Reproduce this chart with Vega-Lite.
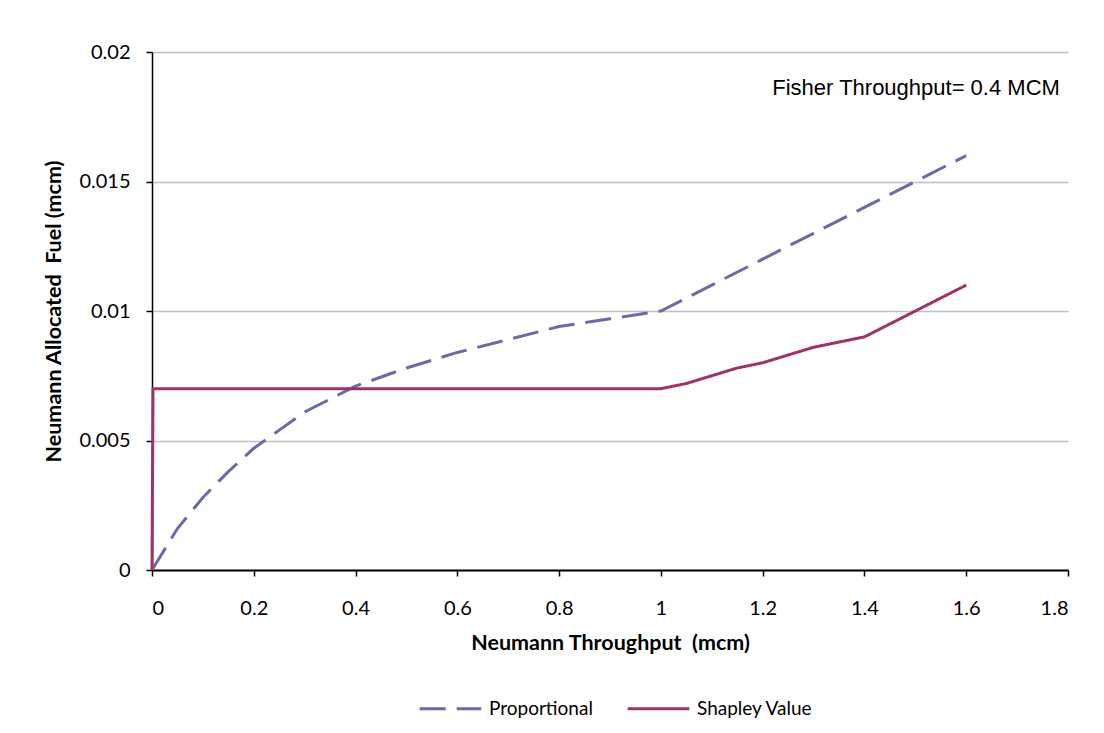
{
  "$schema": "https://vega.github.io/schema/vega-lite/v6.json",
  "width": 916,
  "height": 518,
  "autosize": "none",
  "padding": {"left": 152, "top": 52, "right": 36, "bottom": 163},
  "background": "white",
  "config": {
    "view": {"stroke": null},
    "font": "Lato",
    "axis": {"labelFont": "Lato", "titleFont": "Lato", "labelColor": "black", "titleColor": "black"}
  },
  "datasets": {
    "lines": [
      {"series": "Proportional", "x": 0, "y": 0},
      {"series": "Proportional", "x": 0.05, "y": 0.0016},
      {"series": "Proportional", "x": 0.1, "y": 0.0028},
      {"series": "Proportional", "x": 0.15, "y": 0.0038},
      {"series": "Proportional", "x": 0.2, "y": 0.0047},
      {"series": "Proportional", "x": 0.25, "y": 0.0054},
      {"series": "Proportional", "x": 0.3, "y": 0.0061},
      {"series": "Proportional", "x": 0.35, "y": 0.0066},
      {"series": "Proportional", "x": 0.4, "y": 0.0071},
      {"series": "Proportional", "x": 0.5, "y": 0.0078},
      {"series": "Proportional", "x": 0.6, "y": 0.0084},
      {"series": "Proportional", "x": 0.7, "y": 0.0089},
      {"series": "Proportional", "x": 0.8, "y": 0.0094},
      {"series": "Proportional", "x": 0.9, "y": 0.0097},
      {"series": "Proportional", "x": 1.0, "y": 0.01},
      {"series": "Proportional", "x": 1.1, "y": 0.011},
      {"series": "Proportional", "x": 1.2, "y": 0.012},
      {"series": "Proportional", "x": 1.3, "y": 0.013},
      {"series": "Proportional", "x": 1.35, "y": 0.0135},
      {"series": "Proportional", "x": 1.4, "y": 0.014},
      {"series": "Proportional", "x": 1.5, "y": 0.015},
      {"series": "Proportional", "x": 1.6, "y": 0.016},
      {"series": "Shapley Value", "x": 0, "y": 0},
      {"series": "Shapley Value", "x": 0.002, "y": 0.007},
      {"series": "Shapley Value", "x": 1.0, "y": 0.007},
      {"series": "Shapley Value", "x": 1.05, "y": 0.0072},
      {"series": "Shapley Value", "x": 1.15, "y": 0.0078},
      {"series": "Shapley Value", "x": 1.2, "y": 0.008},
      {"series": "Shapley Value", "x": 1.3, "y": 0.0086},
      {"series": "Shapley Value", "x": 1.35, "y": 0.0088},
      {"series": "Shapley Value", "x": 1.4, "y": 0.009},
      {"series": "Shapley Value", "x": 1.5, "y": 0.01},
      {"series": "Shapley Value", "x": 1.6, "y": 0.011}
    ],
    "note": [
      {"x": 1.784, "y": 0.0186, "label": "Fisher Throughput= 0.4 MCM"}
    ]
  },
  "layer": [
    {
      "data": {"name": "lines"},
      "mark": {"type": "line", "strokeWidth": 3, "clip": false},
      "encoding": {
        "x": {
          "field": "x", "type": "quantitative",
          "scale": {"domain": [0, 1.8], "nice": false, "zero": false},
          "axis": {
            "title": "Neumann Throughput \u00a0(mcm)",
            "values": [0, 0.2, 0.4, 0.6, 0.8, 1, 1.2, 1.4, 1.6, 1.8],
            "format": "~g",
            "grid": false,
            "domainColor": "black", "domainWidth": 2,
            "tickColor": "black", "tickWidth": 1.5, "tickSize": 6,
            "labelFontSize": 20, "labelPadding": 22,
            "titleFontSize": 21.5, "titleFontWeight": "bold", "titlePadding": 14
          }
        },
        "y": {
          "field": "y", "type": "quantitative",
          "scale": {"domain": [0, 0.02], "nice": false},
          "axis": {
            "title": "Neumann Allocated \u00a0Fuel (mcm)",
            "values": [0, 0.005, 0.01, 0.015, 0.02],
            "format": "~g",
            "grid": true, "gridColor": "#c0c0c0", "gridWidth": 1.5,
            "domainColor": "black", "domainWidth": 1.5,
            "tickColor": "black", "tickWidth": 1.5, "tickSize": 6,
            "labelFontSize": 20, "labelPadding": 16,
            "titleFontSize": 21.5, "titleFontWeight": "bold", "titlePadding": 13
          }
        },
        "color": {
          "field": "series", "type": "nominal",
          "scale": {"domain": ["Proportional", "Shapley Value"], "range": ["#6a6aa6", "#9c3566"]},
          "legend": {
            "title": null, "orient": "none", "direction": "horizontal",
            "legendX": 266, "legendY": 624,
            "symbolType": "stroke", "symbolSize": 3800, "symbolStrokeWidth": 3,
            "labelFont": "Lato", "labelFontSize": 19, "labelColor": "black",
            "labelOffset": 6, "columnPadding": 28
          }
        },
        "strokeDash": {
          "field": "series", "type": "nominal",
          "scale": {"domain": ["Proportional", "Shapley Value"], "range": [[26, 11], [1, 0]]},
          "legend": {
            "title": null, "orient": "none", "direction": "horizontal",
            "legendX": 266, "legendY": 624,
            "symbolType": "stroke", "symbolSize": 3800, "symbolStrokeWidth": 3,
            "labelFont": "Lato", "labelFontSize": 19, "labelColor": "black",
            "labelOffset": 6, "columnPadding": 28
          }
        }
      }
    },
    {
      "data": {"name": "note"},
      "mark": {"type": "text", "align": "right", "baseline": "middle", "font": "Liberation Sans", "fontSize": 22, "color": "black"},
      "encoding": {
        "x": {"field": "x", "type": "quantitative"},
        "y": {"field": "y", "type": "quantitative"},
        "text": {"field": "label"}
      }
    }
  ]
}
